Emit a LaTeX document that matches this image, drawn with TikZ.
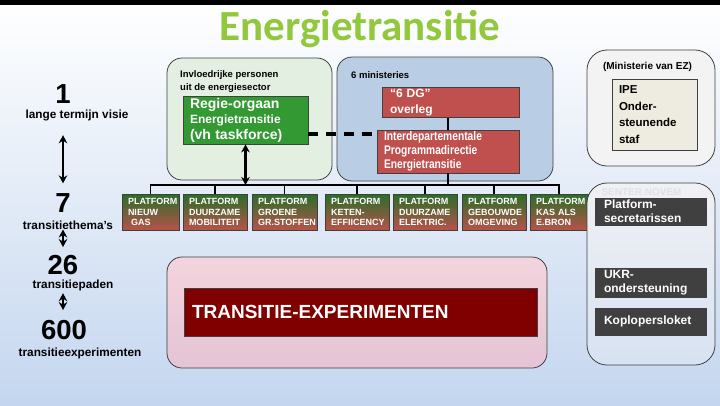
\documentclass[tikz,border=0pt]{standalone}
\usepackage{fontspec}
\setmainfont{Liberation Sans}
\newfontfamily\titlefont{Carlito}
\newfontfamily\narrowfont[FakeStretch=0.82]{Liberation Sans}
\usetikzlibrary{arrows.meta}
\definecolor{titlegreen}{RGB}{146,200,62}
\definecolor{bgblue}{RGB}{196,214,239}
\definecolor{bgmid}{RGB}{232,239,248}
\definecolor{regiongreen}{RGB}{227,240,225}
\definecolor{regionblue}{RGB}{185,205,229}
\definecolor{pinktop}{RGB}{243,212,222}
\definecolor{pinkbot}{RGB}{228,196,213}
\definecolor{ezgrey}{RGB}{243,243,244}
\definecolor{sntop}{RGB}{240,241,243}
\definecolor{snbot}{RGB}{215,226,242}
\definecolor{regiegreen}{RGB}{51,153,51}
\definecolor{dgred}{RGB}{192,80,77}
\definecolor{transred}{RGB}{128,0,0}
\definecolor{platgreen}{RGB}{40,110,40}
\definecolor{platred}{RGB}{184,82,74}
\definecolor{ipebeige}{RGB}{238,236,225}
\definecolor{darkgrey}{RGB}{64,64,64}
\definecolor{faint}{RGB}{222,226,232}
\tikzstyle{region} = [draw=black!75, line width=0.8pt, rounded corners=15pt]
\tikzstyle{conn} = [line width=1.5pt]
\tikzstyle{dblarrow} = [line width=2.4pt,{Stealth[length=8pt,width=8.5pt]}-{Stealth[length=8pt,width=8.5pt]}]
\tikzstyle{dashline} = [line width=3.5pt, dash pattern=on 10pt off 8pt]
\tikzstyle{box} = [rectangle, draw=black!75, line width=0.8pt, inner sep=0pt, align=left, text=white, font=\bfseries]
\tikzstyle{redbox} = [box, fill=dgred]
\tikzstyle{platform} = [box, top color=platgreen, bottom color=platred, minimum height=36, font=\fontsize{9}{10.7}\selectfont\bfseries]
\tikzstyle{darkbox} = [box, fill=darkgrey, minimum width=111, text width=93pt, font=\fontsize{12}{14}\selectfont\bfseries]
\tikzstyle{num} = [inner sep=0pt, font=\fontsize{27.5}{30}\selectfont\bfseries]
\tikzstyle{lbl} = [inner sep=0pt, font=\fontsize{11.8}{14}\selectfont\bfseries]
\tikzstyle{note} = [inner sep=0pt, align=left, font=\fontsize{9.5}{13}\selectfont\bfseries]
\begin{document}
\begin{tikzpicture}[x=1pt,y=-1pt]
\useasboundingbox (0,0) rectangle (720,405);
\shade[top color=white, middle color=bgmid, bottom color=bgblue] (0,0) rectangle (720,405);
\fill[black] (0,0) rectangle (720,5);

\node[font=\titlefont\fontsize{43}{50}\selectfont\bfseries, text=titlegreen, anchor=base] (title) at (360,40) {Energietransitie};

\node[num] (n1) at (63,94) {1};
\node[lbl] (l1) at (77,115) {lange termijn visie};
\node[num] (n7) at (63,203) {7};
\node[lbl] (l7) at (68,225) {transitiethema's};
\node[num] (n26) at (63,265) {26};
\node[lbl] (l26) at (73,285) {transitiepaden};
\node[num] (n600) at (64,330) {600};
\node[lbl] (l600) at (80,353) {transitieexperimenten};
\draw[dblarrow, shorten <=14.5pt, shorten >=10pt] (n1 |- l1.south) -- (n1 |- n7.north);
\draw[dblarrow, shorten <=0pt, shorten >=8pt] (n7 |- l7.south) -- (n7 |- n26.north);
\draw[dblarrow, shorten <=2.5pt, shorten >=10pt] (n7 |- l26.south) -- (n7 |- n600.north);

\draw[region, fill=regiongreen] (167,58) rectangle (332,180);
\draw[region, fill=regionblue] (337,57) rectangle (553,181);
\draw[region, top color=pinktop, bottom color=pinkbot] (167,257) rectangle (547,368);

\node[note, anchor=north west] (invl) at (180,70.5) {Invloedrijke personen\\uit de energiesector};
\node[note, anchor=west] (mins) at (351,75) {6 ministeries};

\node[box, fill=regiegreen, minimum width=125, minimum height=48, text width=111pt, font=\fontsize{13}{15.5}\selectfont\bfseries] (regie) at (245.5,120)
  {{\fontsize{14}{15}\selectfont Regie-orgaan}\\{\fontsize{12}{14}\selectfont Energietransitie}\\{\fontsize{14}{16}\selectfont (vh taskforce)}};
\node[redbox, minimum width=137, minimum height=30, text width=121pt, font=\fontsize{12}{16.5}\selectfont\bfseries] (dg) at (450.5,102.5) {“6 DG”\\overleg};
\node[redbox, minimum width=142, minimum height=43, text width=128pt, font=\narrowfont\fontsize{12.5}{14}\selectfont\bfseries] (idp) at (448,151.5)
  {Interdepartementale\\Programmadirectie\\Energietransitie};
\node[box, fill=transred, minimum width=353, minimum height=48, text width=337pt, font=\fontsize{19}{22}\selectfont\bfseries] (texp) at (360.5,312) {TRANSITIE-EXPERIMENTEN};

\coordinate (bus) at (0,185);
\draw[dashline] ([yshift=-14pt]regie.east) -- ([yshift=-14pt]regie.east -| idp.west);
\draw[conn] (dg.south -| idp.north) -- (idp.north);
\draw[conn] (idp.south) -- (idp.south |- bus);

\foreach \i/\x/\w/\t in {1/150.5/57/{PLATFORM\\NIEUW\\\hspace*{3pt}GAS},
	2/215/64/{PLATFORM\\DUURZAME\\MOBILITEIT},
	3/284.5/65/{PLATFORM\\GROENE\\GR.STOFFEN},
	4/357/64/{PLATFORM\\KETEN-\\EFFIICENCY},
	5/425/64/{PLATFORM\\DUURZAME\\ELEKTRIC.},
	6/494/64/{PLATFORM\\GEBOUWDE\\OMGEVING},
	7/559/58/{PLATFORM\\KAS ALS\\E.BRON}}{
	\pgfmathsetmacro\tw{\w-12}
	\node[platform, minimum width=\w, text width=\tw pt] (p\i) at (\x,212) {\t};
	\draw[conn] (p\i.north) -- (p\i.north |- bus);
	}
\draw[conn] (p1.north) -- (p1.north |- bus) -- (p7.north |- bus) -- (p7.north);
\draw[dblarrow] (regie.south) -- (regie.south |- bus);

\draw[region, rounded corners=20pt, fill=ezgrey] (587,50) rectangle (715,166);
\node[inner sep=0pt, font=\fontsize{10}{12}\selectfont\bfseries] (ez) at (647.5,67) {(Ministerie van EZ)};
\node[box, fill=ipebeige, text=black, minimum width=85, minimum height=71, text width=71pt, font=\fontsize{11.5}{16.7}\selectfont\bfseries] (ipe) at (654.5,114.5)
  {IPE\\Onder-\\steunende\\staf};

\draw[region, rounded corners=20pt, top color=sntop, bottom color=snbot] (587,183) rectangle (715,365);
\node[inner sep=0pt, text=faint, font=\fontsize{10}{12}\selectfont\bfseries] (senter) at (641.5,192) {SENTER NOVEM};
\node[darkbox, minimum height=27] (psec) at (650.5,211.5) {Platform-\\secretarissen};
\node[darkbox, minimum height=29] (ukr) at (650.5,282.5) {UKR-\\ondersteuning};
\node[darkbox, minimum height=27] (kop) at (650.5,321.5) {Koplopersloket};
\end{tikzpicture}
\end{document}
